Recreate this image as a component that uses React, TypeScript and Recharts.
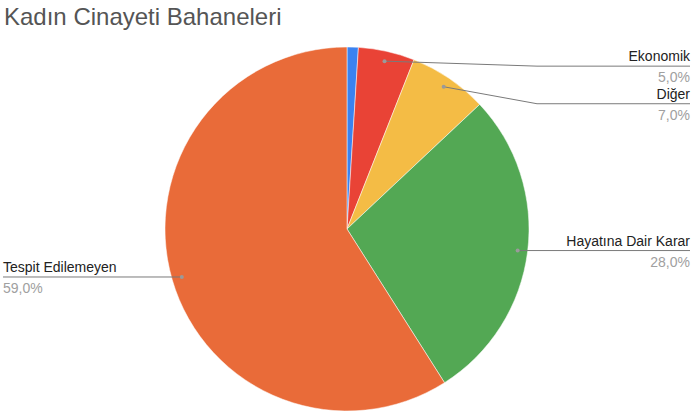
import { PieChart, Pie, Cell } from "recharts"

const categories = ["Kıskançlık", "Ekonomik", "Diğer", "Hayatına Dair Karar", "Tespit Edilemeyen"]
const values = [1, 5, 7, 28, 59]
const colors = ["#3b82f0", "#e94336", "#f4bc45", "#53a854", "#e96b39"]

const data = categories.map((name, i) => ({ name, value: values[i] }))

// extra drop of the label line below the dot, so the top labels don't collide
const lineDrop = [0, 5, 17, 0, 0]
const RAD = Math.PI / 180

const renderLabel = (props: any) => {
  const { cx, cy, midAngle, outerRadius, percent, index, name } = props
  if (percent < 0.02) return null
  const r = outerRadius - 10
  const dx = cx + r * Math.cos(-midAngle * RAD)
  const dy = cy + r * Math.sin(-midAngle * RAD)
  const lineY = dy + lineDrop[index]
  const right = dx > cx
  const endX = right ? 690 : 3
  const elbowX = right ? Math.max(dx, 537) : dx
  const pct = (percent * 100).toFixed(1).replace(".", ",") + "%"
  return (
    <g>
      <polyline
        points={`${dx},${dy} ${elbowX},${lineY} ${endX},${lineY}`}
        fill="none"
        stroke="#7a7a7a"
        strokeWidth={1}
      />
      <circle cx={dx} cy={dy} r={2} fill="#9a9a9a" />
      <text x={endX} y={lineY - 5} textAnchor={right ? "end" : "start"} fontSize={14} fill="#222">
        {name}
      </text>
      <text x={endX} y={lineY + 16} textAnchor={right ? "end" : "start"} fontSize={14} fill="#a0a0a0">
        {pct}
      </text>
    </g>
  )
}

export default function App() {
  return (
    <div
      style={{
        position: "absolute",
        left: 0,
        top: 0,
        width: 699,
        height: 414,
        background: "#fff",
        fontFamily: "'Liberation Sans', Arial, sans-serif",
      }}
    >
      <div style={{ position: "absolute", left: 4, top: 3, fontSize: 24, color: "#555" }}>
        Kadın Cinayeti Bahaneleri
      </div>
      <PieChart
        width={699}
        height={414}
        margin={{ top: 0, right: 0, bottom: 0, left: 0 }}
        style={{ position: "absolute", left: 0, top: 0 }}
      >
        <Pie
          data={data}
          dataKey="value"
          nameKey="name"
          cx={347}
          cy={229}
          outerRadius={182}
          startAngle={90}
          endAngle={-270}
          stroke="#fff"
          strokeWidth={0.5}
          label={renderLabel}
          labelLine={false}
          isAnimationActive={false}
        >
          {data.map((d, i) => (
            <Cell key={d.name} fill={colors[i]} />
          ))}
        </Pie>
      </PieChart>
    </div>
  )
}
